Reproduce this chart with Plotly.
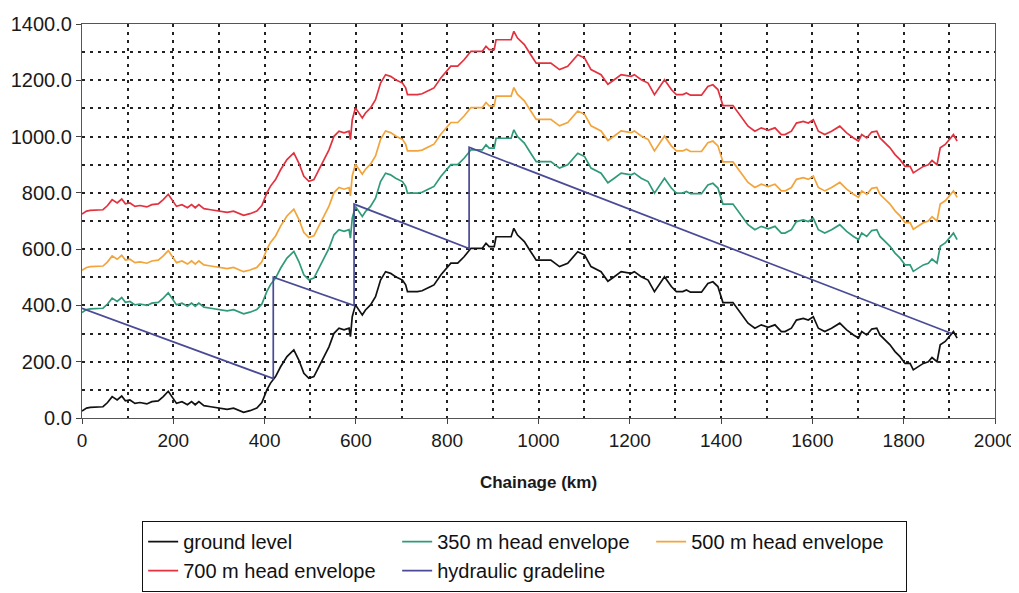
import plotly.graph_objects as go

# Chainage (km) and ground level (m)
chainage_km = [0, 10, 18, 46, 56, 66, 77, 87, 95, 105, 116, 127, 142, 153, 167, 178, 189, 200,
               207, 219, 231, 240, 248, 256, 267, 282, 303, 318, 332, 343, 354, 368, 383, 394,
               405, 413, 424, 435, 449, 464, 475, 486, 497, 508, 519, 530, 541, 552, 563, 574,
               585, 588, 592, 599, 607, 614, 621, 632, 643, 654, 665, 676, 687, 702, 709, 713,
               735, 745, 764, 771, 786, 808, 823, 837, 852, 877, 885, 892, 903, 907, 940, 946,
               954, 969, 983, 995, 1027, 1046, 1064, 1086, 1101, 1115, 1137, 1152, 1166, 1181,
               1203, 1210, 1225, 1240, 1254, 1265, 1276, 1291, 1302, 1316, 1324, 1333, 1357,
               1371, 1382, 1393, 1404, 1426, 1441, 1459, 1474, 1488, 1503, 1518, 1532, 1540,
               1554, 1565, 1580, 1591, 1602, 1613, 1627, 1642, 1660, 1675, 1690, 1701, 1708,
               1719, 1730, 1741, 1748, 1759, 1770, 1781, 1792, 1803, 1814, 1821, 1832, 1843,
               1854, 1862, 1873, 1880, 1891, 1902, 1909, 1917]
ground_level = [25, 35, 38, 40, 55, 76, 64, 78, 61, 64, 52, 55, 50, 58, 61, 76, 95, 70,
                52, 58, 47, 58, 47, 58, 44, 40, 35, 31, 35, 28, 20, 26, 35, 55,
                100, 124, 147, 182, 218, 242, 206, 159, 141, 147, 182, 218, 253, 301, 319, 313,
                319, 289, 360, 402, 384, 366, 384, 402, 431, 490, 520, 514, 502, 490, 473, 449,
                449, 452, 467, 473, 508, 550, 550, 573, 603, 603, 621, 609, 609, 644, 644, 674,
                650, 627, 591, 561, 561, 538, 550, 591, 579, 538, 520, 486, 502, 520,
                514, 520, 502, 490, 449, 478, 502, 467, 449, 449, 455, 447, 447,
                478, 484, 467, 410, 410, 378, 337, 319, 331, 322, 331, 307, 307,
                319, 348, 354, 348, 360, 319, 307, 319, 337, 313, 295, 284, 307,
                295, 316, 319, 295, 277, 260, 236, 218, 194, 194, 171, 182, 194,
                200, 215, 200, 260, 272, 295, 307, 284]

# Head envelopes: ground level plus the pumping head
head_350 = 350
head_500 = 500
head_700 = 700

# Hydraulic gradeline vertices
hgl_km = [0, 419, 419, 596, 596, 848, 848, 1905]
hgl_m = [390, 140, 500, 400, 760, 602, 962, 300]

x_ticks = [0, 200, 400, 600, 800, 1000, 1200, 1400, 1600, 1800, 2000]
y_ticks = [0, 200, 400, 600, 800, 1000, 1200, 1400]

FONT = "Liberation Sans, Arial, sans-serif"

fig = go.Figure()
fig.add_trace(go.Scatter(x=chainage_km, y=ground_level, mode="lines", name="ground level",
                         line=dict(color="#111111", width=1.7)))
fig.add_trace(go.Scatter(x=chainage_km, y=[g + head_350 for g in ground_level], mode="lines",
                         name="350 m head envelope", line=dict(color="#2f9a7a", width=1.7)))
fig.add_trace(go.Scatter(x=chainage_km, y=[g + head_500 for g in ground_level], mode="lines",
                         name="500 m head envelope", line=dict(color="#f3a43a", width=1.7)))
fig.add_trace(go.Scatter(x=chainage_km, y=[g + head_700 for g in ground_level], mode="lines",
                         name="700 m head envelope", line=dict(color="#e3323f", width=1.7)))
fig.add_trace(go.Scatter(x=hgl_km, y=hgl_m, mode="lines", name="hydraulic gradeline",
                         line=dict(color="#4a4a96", width=1.7)))

grid = dict(showgrid=True, gridcolor="#222222", gridwidth=1.5, griddash="3px,5px")

fig.update_layout(
    width=1011, height=585,
    margin=dict(l=74, r=24, t=16, b=175),
    paper_bgcolor="white", plot_bgcolor="white",
    font=dict(family=FONT, size=19, color="#1a1a1a"),
    showlegend=True,
    legend=dict(
        orientation="h", xref="container", yref="container",
        x=0.1325, xanchor="left", y=0.1231, yanchor="top",
        bordercolor="#111111", borderwidth=1.2, bgcolor="white",
        entrywidthmode="pixels", entrywidth=209, itemwidth=30,
        font=dict(family=FONT, size=20, color="#111111"),
        traceorder="normal",
    ),
    xaxis=dict(
        range=[0, 2000], tickvals=x_ticks, ticktext=[str(v) for v in x_ticks],
        ticks="outside", ticklen=5, tickcolor="#444", showline=True, linecolor="#555",
        linewidth=1.2, mirror=True, zeroline=False, automargin=False,
        tickfont=dict(family=FONT, size=19),
        title=dict(text="<b>Chainage (km)</b>", font=dict(family=FONT, size=17), standoff=26),
        minor=dict(dtick=100, tick0=0, ticks="", **grid),
        **grid,
    ),
    yaxis=dict(
        range=[0, 1400], tickvals=y_ticks, ticktext=[f"{v:.1f}" for v in y_ticks],
        ticks="outside", ticklen=5, tickcolor="#444", showline=True, linecolor="#555",
        linewidth=1.2, mirror=True, zeroline=False, automargin=False,
        tickfont=dict(family=FONT, size=20),
        minor=dict(dtick=100, tick0=0, ticks="", **grid),
        **grid,
    ),
)

fig.write_html("out.html")
